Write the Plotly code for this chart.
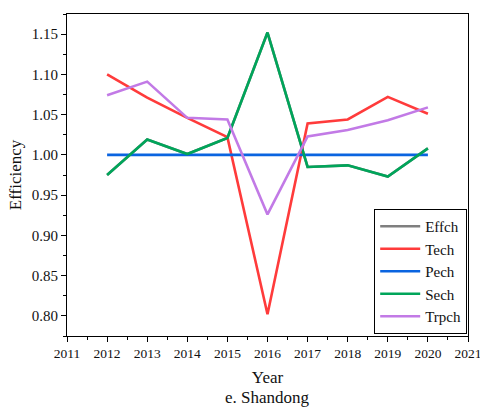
import plotly.graph_objects as go

years = [2012, 2013, 2014, 2015, 2016, 2017, 2018, 2019, 2020]
effch = [0.975, 1.019, 1.001, 1.021, 1.152, 0.985, 0.987, 0.973, 1.008]
tech = [1.100, 1.071, 1.046, 1.022, 0.802, 1.039, 1.044, 1.072, 1.051]
pech = [1.000, 1.000, 1.000, 1.000, 1.000, 1.000, 1.000, 1.000, 1.000]
sech = [0.975, 1.019, 1.001, 1.021, 1.152, 0.985, 0.987, 0.973, 1.008]
trpch = [1.074, 1.091, 1.046, 1.044, 0.926, 1.023, 1.031, 1.043, 1.059]
year_ticks = list(range(2011, 2022))
eff_ticks = [0.80, 0.85, 0.90, 0.95, 1.00, 1.05, 1.10, 1.15]

series = [
    ("Effch", effch, "#7f7f7f"),
    ("Tech", tech, "#ff3b3b"),
    ("Pech", pech, "#0a64e0"),
    ("Sech", sech, "#00a55a"),
    ("Trpch", trpch, "#c27ae6"),
]

font = "Liberation Serif, Times New Roman, serif"

fig = go.Figure()
for name, vals, color in series:
    fig.add_trace(go.Scatter(x=years, y=vals, mode="lines", name=name,
                             line=dict(color=color, width=2.6)))

axis_common = dict(
    showline=True, linecolor="black", linewidth=1.2, mirror=True,
    ticks="outside", ticklen=5, tickwidth=1, tickcolor="black",
    showgrid=False, zeroline=False, ticklabeloverflow="allow", automargin=False,
)

fig.update_xaxes(range=[2011, 2021], tickmode="array", tickvals=year_ticks,
                 ticktext=[str(y) for y in year_ticks],
                 tickfont=dict(family=font, size=13.5, color="#111"),
                 minor=dict(ticks="outside", ticklen=3, dtick=0.5, tickcolor="black"),
                 title=dict(text="Year", font=dict(family=font, size=17, color="#111"), standoff=10),
                 **axis_common)
fig.update_yaxes(range=[0.775, 1.175], tickmode="array", tickvals=eff_ticks,
                 ticktext=[f"{v:.2f}" for v in eff_ticks],
                 tickfont=dict(family=font, size=15, color="#111"),
                 minor=dict(ticks="outside", ticklen=3, dtick=0.025, tickcolor="black"),
                 title=dict(text="Efficiency", font=dict(family=font, size=17, color="#111"), standoff=5),
                 **axis_common)

fig.add_annotation(text="e. Shandong", xref="paper", yref="paper", x=0.5, y=-0.155,
                   xanchor="center", yanchor="top", showarrow=False,
                   font=dict(family=font, size=17, color="#111"))

fig.update_layout(
    width=480, height=407,
    margin=dict(l=67, r=12, t=14, b=71),
    plot_bgcolor="white", paper_bgcolor="white",
    legend=dict(x=0.998, y=0.006, xanchor="right", yanchor="bottom",
                bordercolor="black", borderwidth=1, bgcolor="white",
                font=dict(family=font, size=15, color="#111"),
                tracegroupgap=0, itemwidth=40),
)

fig.write_html("out.html")
